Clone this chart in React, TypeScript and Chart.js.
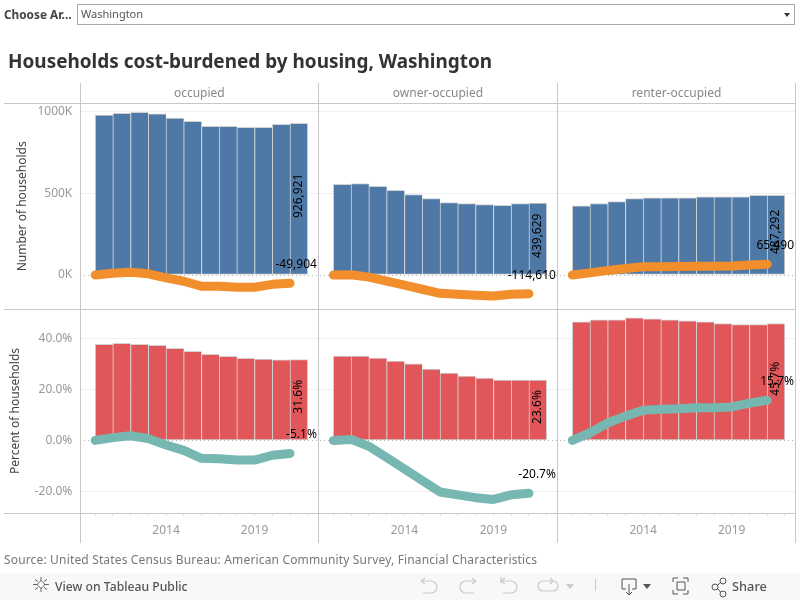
import React, { useEffect, useRef } from "react";
import { Chart, registerables } from "chart.js";

Chart.register(...registerables);

const years = [2010, 2011, 2012, 2013, 2014, 2015, 2016, 2017, 2018, 2019, 2020, 2021];
const panels = ["occupied", "owner-occupied", "renter-occupied"];

const occupiedCount = [976825, 988000, 994000, 984000, 959000, 939000, 908000, 908000, 902000, 902000, 920000, 926921];
const ownerCount = [554239, 559000, 541000, 517000, 492000, 467000, 442000, 436000, 430000, 426000, 436000, 439629];
const renterCount = [421802, 437000, 449000, 467000, 471000, 471000, 471000, 478000, 478000, 478000, 486000, 487292];

const occupiedCountChange = [0, 11000, 17000, 7000, -18000, -38000, -69000, -69000, -75000, -75000, -57000, -49904];
const ownerCountChange = [0, 2000, -13000, -37000, -62000, -87000, -112000, -118000, -124000, -128000, -118000, -114610];
const renterCountChange = [0, 13000, 28000, 40000, 50000, 51000, 52000, 54000, 54000, 55000, 61000, 65490];

const occupiedPct = [37.6, 38.0, 37.6, 37.2, 36.0, 34.9, 33.7, 32.9, 32.1, 31.8, 31.5, 31.6];
const ownerPct = [33.0, 33.0, 32.2, 31.0, 30.0, 27.9, 26.3, 25.2, 24.4, 23.6, 23.6, 23.6];
const renterPct = [46.4, 47.2, 47.2, 48.0, 47.6, 47.2, 46.8, 46.4, 45.7, 45.3, 45.3, 45.7];

const occupiedPctChange = [0, 1.1, 1.8, 0.7, -1.8, -3.9, -7.0, -7.2, -7.7, -7.7, -5.8, -5.1];
const ownerPctChange = [0, 0.4, -2.3, -6.7, -11.2, -15.7, -20.2, -21.3, -22.4, -23.1, -21.3, -20.7];
const renterPctChange = [0, 3.0, 6.8, 9.5, 11.8, 12.2, 12.4, 12.8, 12.8, 13.1, 14.6, 15.7];

const countTicks = [0, 500000, 1000000];
const pctTicks = [-20, 0, 20, 40];
const yearLabels = [2014, 2019];
const yearTicks = [...years, 2022];

const FONT = '"Noto Sans", sans-serif';
const LINE = "#c8c8c8";
const BAR_EDGE = "#d2d2d2";
const BLUE = "#4e79a7";
const RED = "#e15759";
const ORANGE = "#f28e2b";
const TEAL = "#76b7b2";

const xy = (vals: number[], shift: number) => vals.map((v, i) => ({ x: years[i] + shift, y: v }));

const barSet = (vals: number[], color: string, xAxisID: string, yAxisID: string) => ({
  type: "bar" as const,
  data: xy(vals, 0.5),
  xAxisID,
  yAxisID,
  backgroundColor: color,
  borderColor: BAR_EDGE,
  borderWidth: (ctx: any) => ({ left: 1, top: 1, bottom: 1, right: ctx.dataIndex === years.length - 1 ? 1 : 0 }),
  borderSkipped: false,
  barPercentage: 1,
  categoryPercentage: 1,
  grouped: false,
  order: 2,
});

const lineSet = (vals: number[], color: string, xAxisID: string, yAxisID: string) => ({
  type: "line" as const,
  data: xy(vals, 0),
  xAxisID,
  yAxisID,
  borderColor: color,
  borderWidth: 9,
  borderCapStyle: "round" as const,
  borderJoinStyle: "round" as const,
  pointRadius: 0,
  tension: 0,
  fill: false,
  order: 1,
});

const xAxis = (weight: number) => ({
  type: "linear" as const,
  position: "bottom" as const,
  stack: "columns",
  stackWeight: weight,
  offset: false,
  min: 2009.16,
  max: 2022.6,
  border: { display: false },
  grid: { offset: false, drawOnChartArea: false, drawTicks: true, tickLength: 3, tickColor: "#e2e2e2" },
  afterBuildTicks: (s: any) => {
    s.ticks = yearTicks.map((value) => ({ value }));
  },
  afterFit: (s: any) => {
    s.height = 30;
  },
  ticks: {
    autoSkip: false,
    maxRotation: 0,
    padding: 7,
    color: "#999999",
    font: { family: FONT, size: 12 },
    callback: (v: number) => (yearLabels.includes(v) ? String(v) : ""),
  },
});

const yAxis = (
  weight: number,
  min: number,
  max: number,
  tickValues: number[],
  format: (v: number) => string,
  title: string,
  titlePad: number
) => ({
  type: "linear" as const,
  position: "left" as const,
  stack: "rows",
  stackWeight: weight,
  min,
  max,
  border: {
    display: false,
    dash: (ctx: any) => (ctx.tick && ctx.tick.value === 0 ? [1, 3] : []),
  },
  grid: {
    drawTicks: false,
    color: (ctx: any) => (ctx.tick && ctx.tick.value === 0 ? "#b4b4b4" : "#f0f0f0"),
  },
  afterBuildTicks: (s: any) => {
    s.ticks = tickValues.map((value) => ({ value }));
  },
  afterFit: (s: any) => {
    s.width = 80.3;
  },
  title: {
    display: true,
    text: title,
    color: "#444444",
    font: { family: FONT, size: 12 },
    padding: { top: titlePad, bottom: 0 },
  },
  ticks: {
    autoSkip: false,
    padding: 8,
    color: "#999999",
    font: { family: FONT, size: 12 },
    callback: (v: number) => format(v),
  },
});

const panelFrame = {
  id: "panelFrame",
  beforeDatasetsDraw(chart: any) {
    const { ctx, scales } = chart;
    const cols = [scales.x1, scales.x2, scales.x3];
    ctx.save();
    ctx.strokeStyle = LINE;
    ctx.lineWidth = 1;
    const verticals = [...cols.map((c: any) => c.left), scales.x3.right];
    verticals.forEach((x: number) => {
      const px = Math.floor(x) + 0.5;
      ctx.beginPath();
      ctx.moveTo(px, 83);
      ctx.lineTo(px, 543);
      ctx.stroke();
    });
    [scales.yTop.top, scales.yBottom.top, scales.yBottom.bottom].forEach((y: number) => {
      const py = Math.floor(y) + 0.5;
      ctx.beginPath();
      ctx.moveTo(4, py);
      ctx.lineTo(scales.x3.right, py);
      ctx.stroke();
    });
    ctx.fillStyle = "#888888";
    ctx.font = `12px ${FONT}`;
    ctx.textAlign = "center";
    ctx.textBaseline = "middle";
    panels.forEach((name, i) => {
      ctx.fillText(name, (cols[i].left + cols[i].right) / 2, 93.5);
    });
    ctx.restore();
  },
};

const endLabels = {
  id: "endLabels",
  afterDatasetsDraw(chart: any) {
    const { ctx } = chart;
    ctx.save();
    ctx.fillStyle = "#000000";
    ctx.font = `12px ${FONT}`;
    ctx.textBaseline = "middle";
    chart.data.datasets.forEach((ds: any, i: number) => {
      const meta = chart.getDatasetMeta(i);
      const last = meta.data[meta.data.length - 1];
      const value = ds.data[ds.data.length - 1].y;
      const text = ds.yAxisID === "yTop" ? value.toLocaleString("en-US") : `${value.toFixed(1)}%`;
      if (ds.type === "bar") {
        ctx.save();
        ctx.translate(last.x, (last.y + last.base) / 2 - 3);
        ctx.rotate(-Math.PI / 2);
        ctx.textAlign = "center";
        ctx.fillText(text, 0, 0);
        ctx.restore();
      } else {
        ctx.textAlign = "right";
        ctx.fillText(text, meta.xScale.right - 1.5, last.y - 18.5);
      }
    });
    ctx.restore();
  },
};

const ToolbarIcons = () => (
  <svg width="800" height="27" style={{ position: "absolute", left: 0, top: 0 }}>
    <g fill="none" stroke="#666" strokeWidth="1">
      <path d="M41 4v4M41 15v4M35 6.5l3 2M47 6.5l-3 2M35 16.5l3-2M47 16.5l-3-2M33 11.5h5M44 11.5h5M37 11.5l4-4 4 4-4 4z" />
    </g>
    <g fill="none" stroke="#c9c9c9" strokeWidth="1.2">
      <path d="M421 8h10a6 6 0 0 1 0 12h-8M421 8l4-3M421 8l4 3" />
      <path d="M476 8h-10a6 6 0 0 0 0 12h8M476 8l-4-3M476 8l-4 3" />
      <path d="M501 4v6M501 8h10a6 6 0 0 1 0 12h-8M501 8l4-3M501 8l4 3" />
      <path d="M553 8h-10a5 5 0 0 0 0 10h10a5 5 0 0 0 0-10M553 8l-3-3M553 8l-3 3" />
    </g>
    <path d="M566 11h8l-4 5z" fill="#c9c9c9" />
    <path d="M595.5 6v12" stroke="#c9c9c9" />
    <g fill="none" stroke="#555" strokeWidth="1">
      <path d="M622 6h14v10h-4M622 6v10h4M629 11v10M626 19l3 3 3-3" />
      <path d="M673 9v-4h5M673 17v4h5M688 9v-4h-5M688 17v4h-5M677 9h8v8h-8z" />
      <circle cx="715" cy="14" r="3" />
      <circle cx="723" cy="8" r="3" />
      <circle cx="723" cy="21" r="3" />
      <path d="M717.5 12.5l3-3M717.5 15.5l3 3.5" />
    </g>
    <path d="M643 11h8l-4 5z" fill="#555" />
  </svg>
);

export default function App() {
  const ref = useRef<HTMLCanvasElement | null>(null);

  useEffect(() => {
    const chart = new Chart(ref.current as HTMLCanvasElement, {
      data: {
        datasets: [
          barSet(occupiedCount, BLUE, "x1", "yTop"),
          barSet(ownerCount, BLUE, "x2", "yTop"),
          barSet(renterCount, BLUE, "x3", "yTop"),
          lineSet(occupiedCountChange, ORANGE, "x1", "yTop"),
          lineSet(ownerCountChange, ORANGE, "x2", "yTop"),
          lineSet(renterCountChange, ORANGE, "x3", "yTop"),
          barSet(occupiedPct, RED, "x1", "yBottom"),
          barSet(ownerPct, RED, "x2", "yBottom"),
          barSet(renterPct, RED, "x3", "yBottom"),
          lineSet(occupiedPctChange, TEAL, "x1", "yBottom"),
          lineSet(ownerPctChange, TEAL, "x2", "yBottom"),
          lineSet(renterPctChange, TEAL, "x3", "yBottom"),
        ] as any,
      },
      options: {
        animation: false,
        responsive: false,
        layout: { padding: { left: 0, top: 103.6, right: 4.5, bottom: 57 } },
        plugins: { legend: { display: false }, tooltip: { enabled: false } },
        scales: {
          yBottom: yAxis(
            203.5,
            -28.4,
            51.4,
            pctTicks,
            (v) => `${v.toFixed(1)}%`,
            "Percent of households",
            8
          ),
          yTop: yAxis(
            205,
            -208000,
            1047000,
            countTicks,
            (v) => `${v / 1000}K`,
            "Number of households",
            15
          ),
          x1: xAxis(238),
          x2: xAxis(239),
          x3: xAxis(238),
        } as any,
      },
      plugins: [panelFrame, endLabels],
    });
    return () => chart.destroy();
  }, []);

  return (
    <div style={{ position: "fixed", left: 0, top: 0, width: 800, height: 600, background: "#fff", overflow: "hidden", fontFamily: FONT }}>
      <canvas ref={ref} width={800} height={600} style={{ position: "absolute", left: 0, top: 0 }} />
      <div style={{ position: "absolute", left: 4, top: 6, fontSize: 11.8, fontWeight: 700, color: "#444", lineHeight: "16px" }}>Choose Ar...</div>
      <div style={{ position: "absolute", left: 77, top: 4, width: 716, height: 19, border: "1px solid #aaa", boxSizing: "content-box" }}>
        <div style={{ position: "absolute", left: 3, top: 1, fontSize: 11, color: "#555", lineHeight: "16px" }}>Washington</div>
        <div style={{ position: "absolute", right: 4, top: 8, width: 0, height: 0, borderLeft: "3px solid transparent", borderRight: "3px solid transparent", borderTop: "4px solid #333" }} />
      </div>
      <div style={{ position: "absolute", left: 8, top: 47, fontSize: 18.95, fontWeight: 700, color: "#333", lineHeight: "28px", whiteSpace: "nowrap" }}>
        Households cost-burdened by housing, Washington
      </div>
      <div style={{ position: "absolute", left: 4, top: 552, fontSize: 12, letterSpacing: 0.16, color: "#777", lineHeight: "16px", whiteSpace: "nowrap" }}>
        Source: United States Census Bureau: American Community Survey, Financial Characteristics
      </div>
      <div style={{ position: "absolute", left: 0, top: 573, width: 800, height: 27, background: "#f8f8f8" }}>
        <ToolbarIcons />
        <div style={{ position: "absolute", left: 55, top: 5, fontSize: 12.2, fontWeight: 500, color: "#555", lineHeight: "17px" }}>View on Tableau Public</div>
        <div style={{ position: "absolute", left: 732, top: 5, fontSize: 12.8, fontWeight: 500, color: "#555", lineHeight: "17px" }}>Share</div>
      </div>
    </div>
  );
}
